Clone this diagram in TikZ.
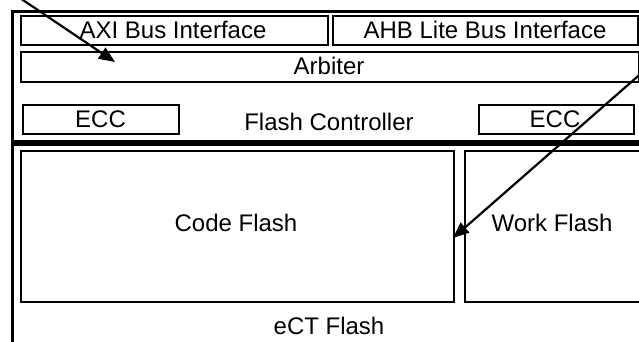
\documentclass[tikz,border=0pt]{standalone}
\usepackage{fontspec}
\setmainfont{Liberation Sans}
\usetikzlibrary{arrows.meta}
\tikzset{
  box/.style={draw=black, line width=1.8pt, inner sep=0pt, anchor=north west},
  frame/.style={draw=black, line width=3pt, inner sep=0pt, anchor=north west},
  lbl/.style={inner sep=0pt, anchor=base, font=\fontsize{24}{28}\selectfont},
  pointer/.style={line width=2.2pt, -{Triangle[length=16pt,width=13pt]}}
}
\begin{document}
\begin{tikzpicture}[x=1pt,y=-1pt]
\useasboundingbox (0,0) rectangle (639,342);
\clip (0,0) rectangle (639,342);
\fill[white] (0,0) rectangle (639,342);
% outer frames
\node[frame, minimum width=650pt, minimum height=130pt] (ctrl) at (11.3,9.8) {};
\node[frame, minimum width=650pt, minimum height=230pt] (ect) at (11.3,143) {};
% controller blocks
\node[box, minimum width=307pt, minimum height=29pt] (axi) at (20,15) {};
\node[box, minimum width=305pt, minimum height=29pt] (ahb) at (332,15) {};
\node[box, minimum width=618pt, minimum height=30pt] (arb) at (20,51) {};
\node[box, minimum width=156pt, minimum height=29pt] (eccl) at (22,104) {};
\node[box, minimum width=155pt, minimum height=29pt] (eccr) at (478,104) {};
% flash blocks
\node[box, minimum width=433pt, minimum height=151pt] (code) at (20,150) {};
\node[box, minimum width=200pt, minimum height=151pt] (work) at (464,150) {};
% labels
\node[lbl] (taxi) at (173,39) {AXI Bus Interface};
\node[lbl] (tahb) at (485,39) {AHB Lite Bus Interface};
\node[lbl] (tarb) at (329,75) {Arbiter};
\node[lbl] (teccl) at (100.5,127) {ECC};
\node[lbl] (teccr) at (555,127) {ECC};
\node[lbl] (tctrl) at (329,130) {Flash Controller};
\node[lbl] (tcode) at (236,231) {Code Flash};
\node[lbl] (twork) at (552,231) {Work Flash};
\node[lbl] (tect) at (329,334) {eCT Flash};
% pointers
\coordinate (s1) at (14,-6);
\coordinate (e1) at (115,62);
\coordinate (s2) at (645,70);
\coordinate (e2) at (453,238);
\draw[pointer] (s1) -- (e1);
\draw[pointer] (s2) -- (e2);
\end{tikzpicture}
\end{document}
